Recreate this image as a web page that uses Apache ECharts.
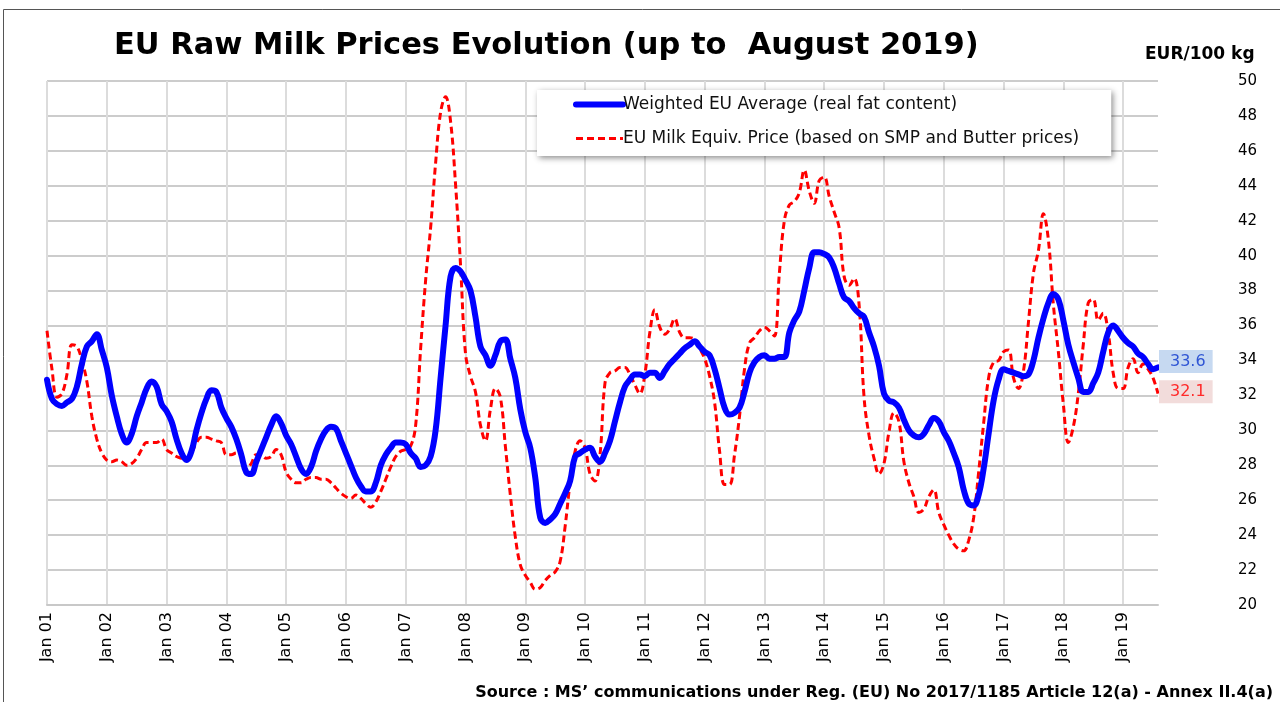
<!DOCTYPE html>
<html>
<head>
<meta charset="utf-8">
<script src="https://cdn.jsdelivr.net/npm/echarts@6/dist/echarts.min.js"></script>
<style>
html,body{margin:0;padding:0;background:#fff;}
#chart{width:1280px;height:702px;}
</style>
</head>
<body>
<div id="chart"></div>
<script>
// ---- data (EUR/100 kg), monthly Jan 2001 .. Aug 2019 ----
const years = ['01','02','03','04','05','06','07','08','09','10','11','12','13','14','15','16','17','18','19'];
const monthNames = ['Jan','Feb','Mar','Apr','May','Jun','Jul','Aug','Sep','Oct','Nov','Dec'];
const lastYearMonths = 8; // up to August 2019

const weightedEU = [
  32.9, 31.8, 31.5, 31.4, 31.6, 31.8, 32.5, 33.8, 34.8, 35.1, 35.5, 34.6, // 2001
  33.6, 32.0, 30.8, 29.8, 29.3, 29.8, 30.8, 31.6, 32.4, 32.8, 32.5, 31.5, // 2002
  31.1, 30.5, 29.5, 28.7, 28.3, 28.8, 30.0, 31.0, 31.8, 32.3, 32.2, 31.3, // 2003
  30.7, 30.2, 29.5, 28.6, 27.6, 27.5, 28.2, 28.9, 29.6, 30.3, 30.8, 30.4, // 2004
  29.7, 29.2, 28.5, 27.8, 27.5, 27.9, 28.8, 29.5, 30.0, 30.2, 30.1, 29.4, // 2005
  28.7, 28.0, 27.3, 26.8, 26.5, 26.5, 27.0, 28.0, 28.6, 29.0, 29.3, 29.3, // 2006
  29.2, 28.7, 28.4, 27.9, 28.0, 28.5, 30.0, 33.0, 36.0, 38.8, 39.3, 39.1, // 2007
  38.6, 38.0, 36.5, 34.8, 34.3, 33.7, 34.3, 35.1, 35.2, 34.1, 33.0, 31.2, // 2008
  29.9, 29.0, 27.3, 25.0, 24.7, 24.9, 25.2, 25.8, 26.4, 27.1, 28.5, 28.7, // 2009
  28.9, 29.0, 28.5, 28.2, 28.7, 29.4, 30.5, 31.6, 32.5, 32.9, 33.2, 33.2, // 2010
  33.1, 33.3, 33.3, 33.0, 33.4, 33.8, 34.1, 34.4, 34.7, 34.9, 35.1, 34.8, // 2011
  34.5, 34.3, 33.5, 32.4, 31.3, 30.9, 31.0, 31.3, 32.2, 33.3, 33.9, 34.2, // 2012
  34.3, 34.1, 34.1, 34.2, 34.2, 35.6, 36.3, 36.8, 38.0, 39.3, 40.2, 40.2, // 2013
  40.1, 39.9, 39.3, 38.4, 37.6, 37.4, 37.0, 36.7, 36.5, 35.6, 34.8, 33.7, // 2014
  32.1, 31.7, 31.6, 31.3, 30.6, 30.0, 29.7, 29.6, 29.8, 30.3, 30.7, 30.5, // 2015
  29.9, 29.4, 28.7, 27.9, 26.6, 25.8, 25.7, 26.3, 27.8, 29.8, 31.7, 32.9, // 2016
  33.5, 33.4, 33.3, 33.2, 33.1, 33.2, 34.0, 35.3, 36.4, 37.3, 37.8, 37.5, // 2017
  36.3, 34.9, 33.9, 33.0, 32.2, 32.2, 32.7, 33.3, 34.5, 35.6, 36.0, 35.7, // 2018
  35.3, 35.0, 34.8, 34.4, 34.2, 33.8, 33.5, 33.6                          // 2019
];

const milkEquiv = [
  35.7, 33.5, 31.9, 32.1, 33.2, 34.9, 34.8, 34.0, 32.8, 30.8, 29.5, 28.7, // 2001
  28.3, 28.2, 28.3, 28.2, 28.0, 28.1, 28.4, 28.9, 29.3, 29.3, 29.3, 29.5, // 2002
  28.9, 28.7, 28.5, 28.4, 28.3, 28.7, 29.3, 29.6, 29.6, 29.5, 29.4, 29.3, // 2003
  28.6, 28.6, 28.7, 28.6, 27.8, 28.1, 28.6, 28.6, 28.4, 28.5, 28.9, 28.6, // 2004
  27.6, 27.2, 27.0, 27.0, 27.2, 27.3, 27.3, 27.2, 27.2, 27.0, 26.7, 26.4, // 2005
  26.2, 26.1, 26.3, 26.1, 25.8, 25.6, 25.9, 26.5, 27.2, 27.9, 28.5, 28.8, // 2006
  28.9, 29.1, 30.3, 34.7, 38.6, 41.6, 45.3, 48.2, 49.1, 47.7, 44.1, 39.5, // 2007
  34.4, 33.1, 32.2, 30.3, 29.4, 31.2, 32.4, 31.9, 29.1, 26.3, 23.9, 22.3, // 2008
  21.7, 21.3, 20.9, 21.0, 21.4, 21.7, 21.9, 22.5, 24.5, 27.0, 28.8, 29.4, // 2009
  29.0, 27.5, 27.1, 28.6, 32.7, 33.3, 33.4, 33.6, 33.6, 33.2, 32.6, 32.1, // 2010
  33.2, 35.6, 36.9, 35.9, 35.5, 35.8, 36.4, 35.6, 35.3, 35.3, 35.2, 34.7, // 2011
  34.1, 33.1, 31.6, 28.8, 26.9, 26.9, 28.6, 30.8, 33.5, 35.0, 35.3, 35.7, // 2012
  35.9, 35.7, 35.4, 39.0, 42.0, 42.9, 43.1, 43.6, 44.9, 43.7, 43.0, 44.3, // 2013
  44.5, 43.4, 42.5, 41.6, 38.8, 38.3, 38.7, 37.2, 31.9, 29.7, 28.4, 27.5, // 2014
  28.1, 29.9, 31.0, 30.5, 28.2, 27.0, 26.2, 25.3, 25.5, 26.2, 26.6, 25.3, // 2015
  24.6, 24.0, 23.5, 23.2, 23.1, 23.7, 25.0, 27.6, 30.4, 33.0, 33.9, 34.0, // 2016
  34.5, 34.6, 33.0, 32.4, 33.4, 36.2, 39.0, 40.3, 42.4, 40.9, 37.2, 34.5, // 2017
  31.5, 29.3, 30.2, 32.1, 34.9, 37.3, 37.5, 36.3, 36.7, 35.6, 33.3, 32.4, // 2018
  32.4, 33.6, 34.1, 33.3, 33.8, 33.5, 33.0, 32.1                          // 2019
];

const seriesNames = ['Weighted EU Average (real fat content)', 'EU Milk Equiv. Price (based on SMP and Butter prices)'];
const titleText = 'EU Raw Milk Prices Evolution (up to  August 2019)';
const unitText = 'EUR/100 kg';
const sourceText = 'Source : MS\u2019 communications under Reg. (EU) No 2017/1185 Article 12(a) - Annex II.4(a)';

// category labels
const categories = [];
years.forEach((y, i) => {
  const n = (i === years.length - 1) ? lastYearMonths : 12;
  for (let m = 0; m < n; m++) categories.push(monthNames[m] + ' ' + y);
});

const FONT = 'DejaVu Sans';
const isJan = (idx) => idx % 12 === 0;

const chart = echarts.init(document.getElementById('chart'), null, {renderer: 'canvas'});
chart.setOption({
  animation: false,
  backgroundColor: '#ffffff',
  title: [{
    text: titleText,
    left: 109, top: 26,
    textStyle: {fontFamily: FONT, fontSize: 30.5, fontWeight: 'bold', color: '#000'}
  }, {
    text: sourceText,
    right: 7, top: 684,
    padding: 0,
    textStyle: {fontFamily: FONT, fontSize: 16, lineHeight: 18, fontWeight: 'bold', color: '#000'}
  }],
  graphic: [{
    type: 'rect', silent: true,
    shape: {x: 3.5, y: 9.5, width: 1300, height: 720},
    style: {fill: 'none', stroke: '#555', lineWidth: 1}
  }, {
    type: 'text', left: 1145, top: 46,
    style: {text: unitText, fontFamily: FONT, fontSize: 17, fontWeight: 'bold', fill: '#000'}
  }],
  legend: {
    left: 537, top: 90,
    orient: 'vertical',
    itemWidth: 47, itemHeight: 14, itemGap: 17,
    padding: [6, 32, 9, 36],
    backgroundColor: '#ffffff',
    shadowBlur: 6, shadowColor: 'rgba(0,0,0,0.45)', shadowOffsetX: 2, shadowOffsetY: 2,
    textStyle: {fontFamily: FONT, fontSize: 17, lineHeight: 17, color: '#111', padding: [0, 0, 0, -5]},
    data: [
      {name: seriesNames[0], itemStyle: {opacity: 0}, lineStyle: {width: 6, cap: 'round'}},
      {name: seriesNames[1], itemStyle: {opacity: 0}, lineStyle: {width: 3, type: [7, 4]}}
    ]
  },
  grid: {left: 47, right: 122, top: 81, bottom: 97, containLabel: false},
  xAxis: {
    type: 'category',
    data: categories,
    boundaryGap: false,
    axisLine: {show: true, lineStyle: {color: '#c8c8c8', width: 2}},
    axisTick: {show: false},
    axisLabel: {
      interval: (idx) => isJan(idx),
      rotate: 90, margin: 7,
      fontFamily: FONT, fontSize: 16, color: '#000'
    },
    splitLine: {show: true, interval: (idx) => isJan(idx), lineStyle: {color: '#dcdcdc', width: 2}}
  },
  yAxis: {
    type: 'value',
    position: 'right',
    min: 20, max: 50, interval: 2,
    axisLine: {show: false},
    axisTick: {show: false},
    axisLabel: {margin: 80, fontFamily: FONT, fontSize: 15, color: '#000'},
    splitLine: {show: true, lineStyle: {color: '#cccccc', width: 2}}
  },
  series: [{
    name: seriesNames[0],
    type: 'line',
    data: weightedEU,
    smooth: 0.4,
    symbol: 'none',
    z: 3,
    lineStyle: {color: '#0000ff', width: 6, cap: 'round', join: 'round'},
    itemStyle: {color: '#0000ff'},
    endLabel: {
      show: true,
      formatter: (p) => p.value.toFixed(1),
      distance: 1, offset: [0, -6],
      backgroundColor: '#c6d9f1',
      padding: [4, 7, 3, 11],
      fontFamily: FONT, fontSize: 16, color: '#2f55d4'
    }
  }, {
    name: seriesNames[1],
    type: 'line',
    data: milkEquiv,
    smooth: 0.4,
    symbol: 'none',
    z: 2,
    lineStyle: {color: '#ff0000', width: 3, type: [7, 4]},
    itemStyle: {color: '#ff0000'},
    endLabel: {
      show: true,
      formatter: (p) => p.value.toFixed(1),
      distance: 1, offset: [0, -2],
      backgroundColor: '#f2dcdb',
      padding: [4, 7, 3, 11],
      fontFamily: FONT, fontSize: 16, color: '#ff2a2a'
    }
  }]
});
</script>
</body>
</html>
